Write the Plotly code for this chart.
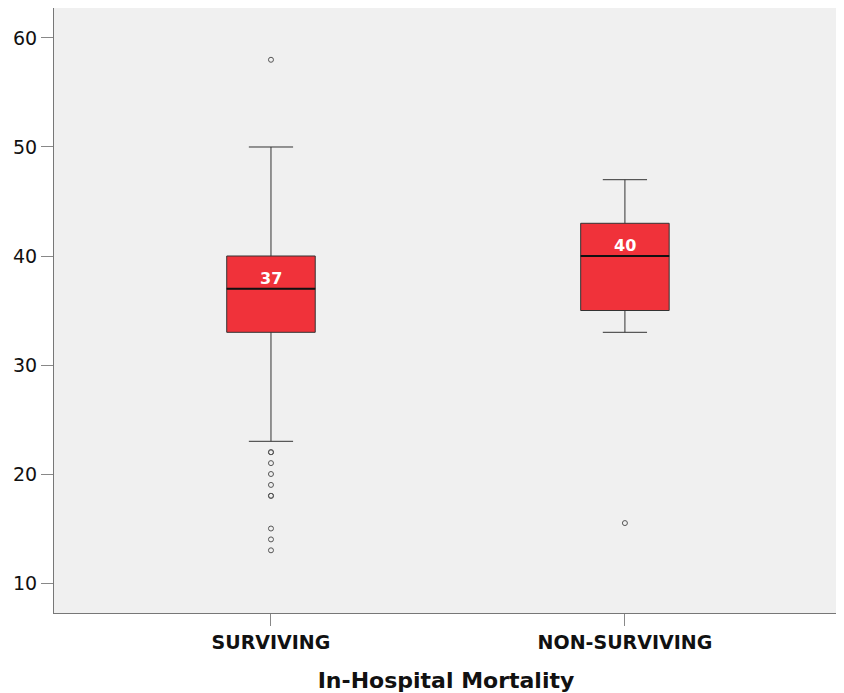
import plotly.graph_objects as go

categories = ["SURVIVING", "NON-SURVIVING"]
q1 = [33, 35]
median = [37, 40]
q3 = [40, 43]
lower_fence = [23, 33]
upper_fence = [50, 47]
outliers = [
    [58, 22, 22, 21, 20, 19, 18, 18, 15, 14, 13],
    [15.5],
]
median_labels = ["37", "40"]
y_ticks = [10, 20, 30, 40, 50, 60]
box_width = 0.25

fig = go.Figure()
fig.add_trace(go.Box(
    x=categories, q1=q1, median=median, q3=q3,
    lowerfence=lower_fence, upperfence=upper_fence,
    fillcolor="#F0323A", line=dict(color="#333333", width=1),
    width=box_width, whiskerwidth=0.5, boxpoints=False, showlegend=False,
    hoverinfo="skip",
))
for cat, pts in zip(categories, outliers):
    fig.add_trace(go.Scatter(
        x=[cat] * len(pts), y=pts, mode="markers",
        marker=dict(symbol="circle-open", size=5, color="#555555", line=dict(width=1)),
        showlegend=False,
    ))
for i, (cat, m, lab) in enumerate(zip(categories, median, median_labels)):
    fig.add_shape(type="line", xref="x", yref="y",
                  x0=i - box_width / 2, x1=i + box_width / 2, y0=m, y1=m,
                  line=dict(color="#111111", width=2))
    fig.add_annotation(x=cat, y=m, text="<b>%s</b>" % lab, showarrow=False,
                       yanchor="bottom", yshift=-1,
                       font=dict(color="white", size=16, family="DejaVu Sans"))

fig.update_layout(
    width=836, height=685,
    margin=dict(l=46, r=6, t=0, b=80),
    paper_bgcolor="white", plot_bgcolor="#F0F0F0",
    font=dict(family="DejaVu Sans", color="#111111"),
    xaxis=dict(
        range=[-0.613, 1.602], showgrid=False, zeroline=False, automargin=False,
        showline=True, linecolor="#777777", linewidth=1, mirror=True,
        ticks="outside", ticklen=12, tickcolor="#888888",
        tickfont=dict(size=19, family="DejaVu Sans", color="#111111"),
        ticktext=["<b>SURVIVING</b>", "<b>NON-SURVIVING</b>"], tickvals=categories,
        title=dict(text="<b>In-Hospital Mortality</b>", font=dict(size=22, color="#111111"), standoff=20),
    ),
    yaxis=dict(
        range=[7.25, 62.75], showgrid=False, zeroline=False, automargin=False,
        showline=True, linecolor="#777777", linewidth=1, mirror=True,
        ticks="outside", ticklen=12, tickcolor="#888888",
        tickvals=y_ticks, tickfont=dict(size=19, color="#111111"),
    ),
)
fig.write_html("out.html")
